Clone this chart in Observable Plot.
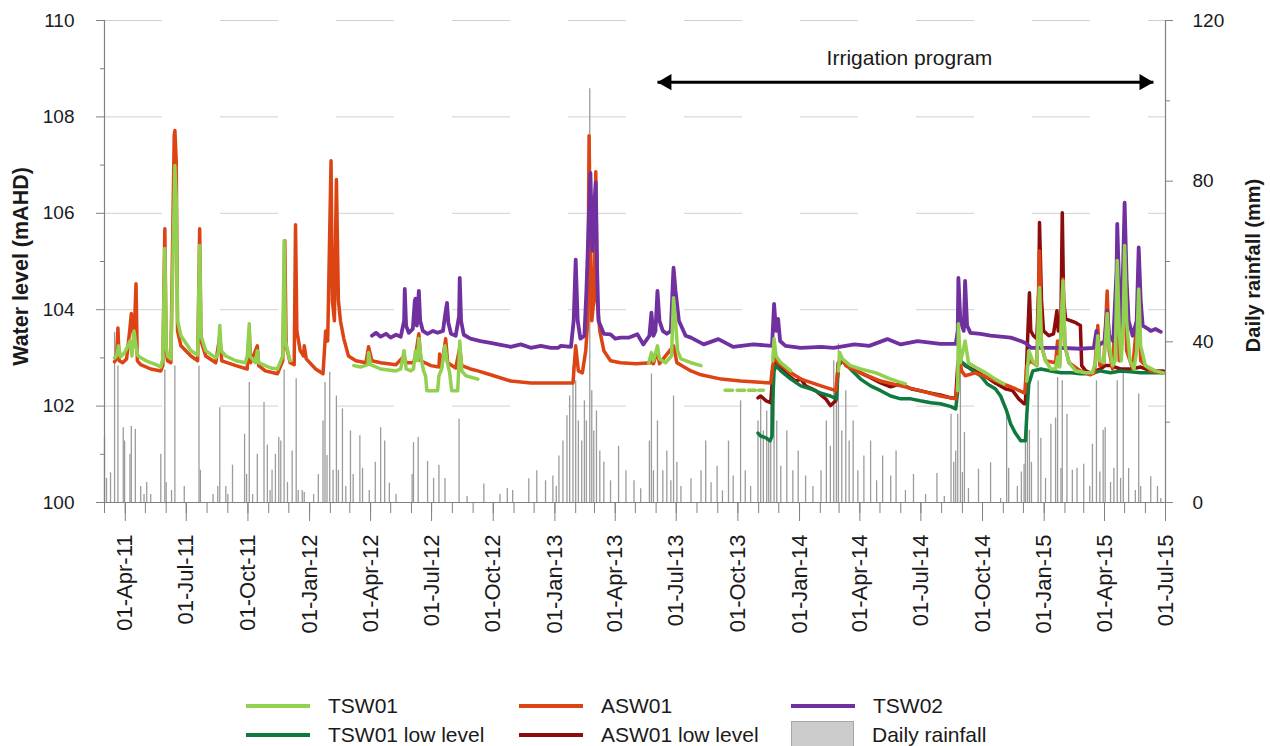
<!DOCTYPE html>
<html>
<head>
<meta charset="utf-8">
<script src="https://cdn.jsdelivr.net/npm/d3@7"></script>
<script src="https://cdn.jsdelivr.net/npm/@observablehq/plot@0.6"></script>
<style>
  body { margin: 0; background: #fff; font-family: "Liberation Sans", Arial, sans-serif; }
  #wrap { position: relative; width: 1270px; height: 746px; overflow: hidden; background: #fff; }
  #legend .item { position: absolute; display: flex; align-items: center; height: 30px; font-size: 21px; color: #1a1a1a; white-space: nowrap; }
  #legend .sw-line { width: 64px; height: 4px; margin-right: 18px; }
  #legend .sw-box { width: 63px; height: 28px; margin-right: 18px; box-sizing: border-box; background: #cccccc; border: 1px solid #a6a6a6; }
</style>
</head>
<body>
<div id="wrap"><div id="chart"></div><div id="legend"></div></div>
<script>
// ---------------- data ----------------
const xDomain = ["2011-03-01", "2015-07-01"];
const levelDomain = [100, 110];
const rainDomain = [0, 120];
const levelTicks = [100, 102, 104, 106, 108, 110];
const levelMinorTicks = [101, 103, 105, 107, 109];
const rainTicks = [0, 40, 80, 120];
const rainMinorTicks = [20, 60, 100];
const quarterTicks = ["2011-04-01","2011-07-01","2011-10-01","2012-01-01","2012-04-01","2012-07-01","2012-10-01","2013-01-01","2013-04-01","2013-07-01","2013-10-01","2014-01-01","2014-04-01","2014-07-01","2014-10-01","2015-01-01","2015-04-01","2015-07-01"];
const axisTitles = { left: "Water level (mAHD)", right: "Daily rainfall (mm)" };
const irrigation = [{ from: "2013-06-03", to: "2015-06-13", level: 108.72, label: "Irrigation program" }];

// ASW01 (continuous)
const asw01 = [
["2011-03-16",102.92],["2011-03-19",102.98],["2011-03-21",103.62],["2011-03-23",102.94],["2011-03-28",102.90],["2011-04-03",102.98],["2011-04-08",103.62],["2011-04-10",103.92],["2011-04-14",103.35],["2011-04-17",104.54],["2011-04-19",102.94],["2011-04-24",102.86],["2011-05-09",102.77],["2011-05-24",102.73],["2011-05-27",102.84],["2011-05-30",105.68],["2011-06-01",103.15],["2011-06-03",102.94],["2011-06-08",102.90],["2011-06-13",107.61],["2011-06-14",107.72],["2011-06-16",107.09],["2011-06-18",103.56],["2011-06-23",103.25],["2011-07-08",103.04],["2011-07-18",102.94],["2011-07-21",105.68],["2011-07-23",103.35],["2011-07-30",103.04],["2011-08-14",102.90],["2011-08-20",103.46],["2011-08-23",102.94],["2011-09-13",102.84],["2011-09-30",102.77],["2011-10-03",103.56],["2011-10-05",102.90],["2011-10-15",103.25],["2011-10-17",102.84],["2011-10-27",102.73],["2011-11-14",102.67],["2011-11-22",102.94],["2011-11-25",105.43],["2011-11-27",103.25],["2011-12-03",102.90],["2011-12-09",102.86],["2011-12-11",105.76],["2011-12-13",103.56],["2011-12-18",103.15],["2011-12-23",103.04],["2011-12-24",103.25],["2011-12-27",102.98],
["2012-01-10",102.77],["2012-01-21",102.67],["2012-01-25",103.56],["2012-01-28",103.35],["2012-02-02",107.09],["2012-02-04",104.19],["2012-02-07",103.77],["2012-02-10",106.70],["2012-02-13",104.19],["2012-02-16",103.77],["2012-02-21",103.40],["2012-02-28",103.04],["2012-03-10",102.94],["2012-03-25",102.90],["2012-03-29",103.23],["2012-04-03",102.94],["2012-04-16",102.90],["2012-05-09",102.86],["2012-05-21",103.04],["2012-05-24",102.90],["2012-06-04",102.90],["2012-06-07",103.04],["2012-06-12",103.50],["2012-06-15",102.94],["2012-06-30",102.84],["2012-07-12",102.81],["2012-07-13",103.08],["2012-07-16",102.81],["2012-07-22",103.40],["2012-07-25",102.90],["2012-08-06",102.79],["2012-08-12",103.21],["2012-08-15",102.84],["2012-08-28",102.77],["2012-09-08",102.73],["2012-09-27",102.65],["2012-10-27",102.52],["2012-11-26",102.48],
["2013-01-10",102.48],["2013-01-28",102.48],["2013-02-01",103.25],["2013-02-05",102.73],["2013-02-11",102.69],["2013-02-16",103.15],["2013-02-19",103.77],["2013-02-21",107.61],["2013-02-23",105.22],["2013-02-25",103.77],["2013-02-28",104.19],["2013-03-03",106.86],["2013-03-05",104.19],["2013-03-09",103.56],["2013-03-15",103.15],["2013-03-25",102.94],["2013-04-09",102.90],["2013-05-02",102.88],["2013-05-24",102.90],["2013-05-25",103.04],["2013-05-28",102.88],["2013-06-03",103.15],["2013-06-06",102.88],["2013-06-27",103.25],["2013-07-02",102.90],["2013-07-23",102.73],["2013-08-07",102.65],["2013-09-06",102.56],["2013-10-05",102.52],["2013-10-28",102.50],["2013-11-19",102.48],["2013-11-22",102.84],["2013-11-25",103.04],["2013-11-30",102.90],["2013-12-19",102.69],
["2014-01-03",102.56],["2014-02-02",102.42],["2014-02-24",102.32],["2014-02-28",102.90],["2014-03-05",102.98],["2014-03-11",102.84],["2014-04-02",102.69],["2014-05-02",102.52],["2014-06-01",102.42],["2014-06-30",102.32],["2014-07-30",102.21],["2014-08-22",102.15],["2014-08-28",102.94],["2014-08-31",102.73],["2014-09-05",102.63],["2014-09-20",102.69],["2014-10-06",102.61],["2014-10-28",102.48],["2014-11-19",102.36],["2014-12-03",102.27],["2014-12-06",102.84],["2014-12-12",102.94],["2014-12-21",102.84],["2014-12-25",105.22],["2014-12-28",103.25],
["2015-01-03",102.94],["2015-01-18",102.90],["2015-01-21",103.35],["2015-01-24",102.84],["2015-01-29",104.64],["2015-02-01",103.25],["2015-02-07",102.90],["2015-02-24",102.73],["2015-03-11",102.65],["2015-03-17",102.69],["2015-03-22",103.67],["2015-03-25",102.84],["2015-03-31",102.90],["2015-04-05",104.39],["2015-04-08",103.15],["2015-04-13",102.77],["2015-04-20",104.81],["2015-04-23",102.94],["2015-05-01",105.02],["2015-05-04",103.15],["2015-05-13",102.77],["2015-05-22",104.19],["2015-05-25",102.94],["2015-06-09",102.73],["2015-06-28",102.69]
];

// TSW01 (broken record: list of segments)
const tsw01 = [
 [["2011-03-16",103.00],["2011-03-19",103.04],["2011-03-22",103.25],["2011-03-25",103.02],["2011-03-31",103.11],["2011-04-05",103.25],["2011-04-08",103.35],["2011-04-11",103.04],["2011-04-14",103.56],["2011-04-17",103.25],["2011-04-20",103.04],["2011-05-02",102.94],["2011-05-17",102.86],["2011-05-24",102.81],["2011-05-27",102.98],["2011-05-30",105.27],["2011-06-01",103.25],["2011-06-03",103.04],["2011-06-08",102.98],["2011-06-13",106.26],["2011-06-14",106.99],["2011-06-16",106.26],["2011-06-18",103.77],["2011-06-23",103.46],["2011-07-08",103.15],["2011-07-18",103.06],["2011-07-21",105.33],["2011-07-23",103.46],["2011-07-30",103.15],["2011-08-14",103.00],["2011-08-18",103.11],["2011-08-20",103.67],["2011-08-22",103.15],["2011-08-29",103.04],["2011-09-13",102.94],["2011-09-27",102.90],["2011-09-30",103.04],["2011-10-03",103.71],["2011-10-04",103.04],["2011-10-12",102.90],["2011-10-15",103.15],["2011-10-17",102.90],["2011-10-27",102.84],["2011-11-04",102.79],["2011-11-14",102.77],["2011-11-22",103.04],["2011-11-24",105.43],["2011-11-26",103.35],["2011-12-01",103.04],["2011-12-03",102.94]],
 [["2012-03-07",102.84],["2012-03-17",102.81],["2012-03-28",102.86],["2012-03-29",103.11],["2012-04-01",102.86],["2012-04-16",102.77],["2012-05-09",102.73],["2012-05-16",102.77],["2012-05-21",103.15],["2012-05-24",102.77],["2012-05-31",102.73],["2012-06-04",102.77],["2012-06-07",103.15],["2012-06-10",102.94],["2012-06-12",103.40],["2012-06-15",103.04],["2012-06-19",102.73],["2012-06-22",102.63],["2012-06-24",102.32],["2012-07-10",102.32],["2012-07-12",102.63],["2012-07-16",102.77],["2012-07-21",103.25],["2012-07-24",102.94],["2012-07-28",102.69],["2012-07-31",102.32],["2012-08-09",102.32],["2012-08-11",102.94],["2012-08-12",103.35],["2012-08-15",102.73],["2012-08-21",102.63],["2012-09-08",102.56]],
 [["2013-05-21",102.90],["2013-05-25",103.11],["2013-05-28",102.94],["2013-06-03",103.25],["2013-06-06",102.98],["2013-06-15",102.90],["2013-06-24",103.04],["2013-06-27",104.25],["2013-06-30",103.77],["2013-07-03",103.15],["2013-07-08",102.98],["2013-07-23",102.90],["2013-08-07",102.84]],
 [["2013-09-12",102.33],["2013-09-23",102.33]],
 [["2013-09-30",102.33],["2013-10-11",102.33]],
 [["2013-10-17",102.33],["2013-10-27",102.33]],
 [["2013-11-01",102.33],["2013-11-08",102.33]],
 [["2013-11-22",102.94],["2013-11-24",103.40],["2013-11-27",103.04],["2013-12-04",102.90],["2013-12-19",102.73]],
 [["2014-02-28",102.73],["2014-03-02",103.11],["2014-03-06",102.98],["2014-03-18",102.84],["2014-04-02",102.77],["2014-04-25",102.69],["2014-05-17",102.56],["2014-06-08",102.46]],
 [["2014-08-25",102.32],["2014-08-26",103.71],["2014-08-29",102.90],["2014-09-05",103.35],["2014-09-10",102.90],["2014-09-20",102.81],["2014-10-06",102.69],["2014-10-20",102.56],["2014-11-02",102.46]],
 [["2014-12-06",102.52],["2014-12-09",103.15],["2014-12-15",102.94],["2014-12-21",102.84],["2014-12-25",104.46],["2014-12-28",103.25],["2015-01-03",102.94],["2015-01-11",102.77],["2015-01-18",102.77],["2015-01-21",103.02],["2015-01-24",102.81],["2015-01-29",104.60],["2015-02-01",103.25],["2015-02-07",102.90],["2015-02-17",102.73],["2015-03-04",102.69],["2015-03-14",102.69],["2015-03-19",102.94],["2015-03-22",103.46],["2015-03-25",102.94],["2015-03-31",102.90],["2015-04-02",103.25],["2015-04-05",103.92],["2015-04-08",103.25],["2015-04-13",102.84],["2015-04-17",102.94],["2015-04-20",105.02],["2015-04-23",103.56],["2015-04-26",102.94],["2015-04-29",103.77],["2015-05-01",105.33],["2015-05-04",103.77],["2015-05-09",102.94],["2015-05-15",102.77],["2015-05-19",103.15],["2015-05-22",104.43],["2015-05-25",103.25],["2015-06-01",102.84],["2015-06-16",102.73],["2015-06-28",102.69]]
];

// TSW02
const tsw02 = [
["2012-04-03",103.46],["2012-04-09",103.52],["2012-04-16",103.44],["2012-04-24",103.50],["2012-05-01",103.42],["2012-05-09",103.48],["2012-05-16",103.44],["2012-05-21",103.77],["2012-05-22",104.43],["2012-05-24",103.67],["2012-05-28",103.52],["2012-06-03",103.60],["2012-06-06",104.19],["2012-06-07",104.23],["2012-06-09",103.67],["2012-06-12",104.39],["2012-06-14",103.77],["2012-06-18",103.56],["2012-06-25",103.50],["2012-07-03",103.56],["2012-07-10",103.52],["2012-07-18",103.56],["2012-07-21",103.87],["2012-07-24",104.14],["2012-07-26",103.73],["2012-07-30",103.50],["2012-08-06",103.46],["2012-08-11",103.87],["2012-08-12",104.66],["2012-08-14",103.77],["2012-08-18",103.48],["2012-08-28",103.40],["2012-09-12",103.35],["2012-09-27",103.31],["2012-10-12",103.27],["2012-10-27",103.23],["2012-11-11",103.28],["2012-11-26",103.21],["2012-12-11",103.25],["2012-12-26",103.21],
["2013-01-06",103.21],["2013-01-10",103.25],["2013-01-25",103.23],["2013-01-29",103.77],["2013-02-01",105.04],["2013-02-04",103.77],["2013-02-08",103.40],["2013-02-14",103.46],["2013-02-17",104.39],["2013-02-19",105.22],["2013-02-22",106.47],["2013-02-23",106.84],["2013-02-25",105.64],["2013-02-26",105.22],["2013-03-01",106.26],["2013-03-03",106.64],["2013-03-05",104.81],["2013-03-07",103.77],["2013-03-15",103.50],["2013-03-25",103.49],["2013-04-01",103.40],["2013-04-09",103.42],["2013-04-21",103.42],["2013-05-04",103.49],["2013-05-13",103.28],["2013-05-22",103.46],["2013-05-25",103.94],["2013-05-28",103.46],["2013-05-31",103.56],["2013-06-03",104.39],["2013-06-06",103.77],["2013-06-11",103.56],["2013-06-17",103.50],["2013-06-23",103.56],["2013-06-26",104.60],["2013-06-27",104.87],["2013-06-30",104.39],["2013-07-05",103.77],["2013-07-15",103.46],["2013-07-23",103.42],["2013-08-11",103.28],["2013-09-02",103.39],["2013-09-24",103.23],["2013-10-24",103.28],["2013-11-21",103.25],["2013-11-24",104.12],["2013-11-27",103.56],["2013-11-30",103.81],["2013-12-03",103.35],["2013-12-11",103.25],
["2014-01-03",103.21],["2014-02-02",103.23],["2014-02-21",103.21],["2014-03-24",103.28],["2014-04-15",103.25],["2014-05-12",103.39],["2014-06-01",103.28],["2014-06-26",103.35],["2014-07-30",103.29],["2014-08-22",103.29],["2014-08-25",103.56],["2014-08-26",104.66],["2014-08-29",103.77],["2014-09-03",103.56],["2014-09-05",104.60],["2014-09-08",103.67],["2014-09-13",103.52],["2014-09-28",103.50],["2014-10-13",103.46],["2014-10-28",103.44],["2014-11-12",103.42],["2014-11-27",103.35],["2014-12-04",103.31],["2014-12-12",103.21],["2014-12-27",103.21],
["2015-01-26",103.21],["2015-02-24",103.19],["2015-03-16",103.21],["2015-03-20",103.56],["2015-03-23",103.25],["2015-04-01",103.35],["2015-04-05",103.98],["2015-04-08",103.46],["2015-04-14",103.35],["2015-04-19",104.81],["2015-04-20",105.78],["2015-04-23",104.39],["2015-04-26",103.56],["2015-04-29",105.02],["2015-05-01",106.22],["2015-05-04",104.60],["2015-05-07",103.77],["2015-05-13",103.46],["2015-05-19",103.77],["2015-05-22",105.29],["2015-05-25",104.19],["2015-05-28",103.67],["2015-06-03",103.62],["2015-06-09",103.56],["2015-06-16",103.60],["2015-06-24",103.54]
];

// TSW01 low level
const tsw01Low = [
["2013-10-31",101.44],["2013-11-04",101.38],["2013-11-12",101.34],["2013-11-18",101.28],["2013-11-21",101.38],["2013-11-22",102.11],["2013-11-24",102.73],["2013-11-27",102.84],["2013-12-04",102.73],["2013-12-19",102.56],["2014-01-03",102.42],["2014-01-17",102.36],["2014-02-02",102.27],["2014-02-16",102.21],["2014-02-25",102.15],["2014-02-28",102.84],["2014-03-06",102.94],["2014-03-18",102.77],["2014-04-02",102.56],["2014-04-17",102.42],["2014-05-02",102.32],["2014-05-17",102.21],["2014-06-01",102.15],["2014-06-16",102.15],["2014-06-30",102.11],["2014-07-16",102.07],["2014-07-30",102.05],["2014-08-15",101.99],["2014-08-22",101.94],["2014-08-25",102.32],["2014-08-26",102.94],["2014-09-01",102.90],["2014-09-13",102.77],["2014-09-28",102.63],["2014-10-08",102.46],["2014-10-20",102.36],["2014-10-28",102.21],["2014-11-06",101.90],["2014-11-12",101.63],["2014-11-19",101.44],["2014-11-27",101.28],["2014-12-04",101.28],["2014-12-06",101.80],["2014-12-09",102.46],["2014-12-15",102.73],["2014-12-27",102.77],["2015-01-11",102.73],["2015-01-26",102.69],["2015-02-10",102.69],["2015-02-24",102.67],["2015-03-11",102.67],["2015-03-26",102.73],["2015-04-10",102.69],["2015-04-25",102.73],["2015-05-10",102.71],["2015-05-25",102.69],["2015-06-09",102.69],["2015-06-28",102.69]
];

// ASW01 low level
const asw01Low = [
["2013-10-31",102.17],["2013-11-04",102.21],["2013-11-12",102.11],["2013-11-19",102.07],["2013-11-22",102.63],["2013-11-25",102.94],["2013-11-30",102.84],["2013-12-11",102.69],["2013-12-26",102.52],["2014-01-03",102.56],["2014-01-10",102.42],["2014-01-25",102.32],["2014-02-09",102.15],["2014-02-16",102.01],["2014-02-24",102.11],["2014-02-28",102.90],["2014-03-06",102.94],["2014-03-18",102.81],["2014-04-02",102.69],["2014-04-17",102.59],["2014-05-02",102.48],["2014-05-17",102.40],["2014-06-01",102.46],["2014-06-16",102.36],["2014-06-30",102.32],["2014-07-16",102.27],["2014-07-30",102.23],["2014-08-15",102.17],["2014-08-22",102.17],["2014-08-25",102.84],["2014-08-29",102.94],["2014-09-05",102.84],["2014-09-20",102.73],["2014-10-08",102.59],["2014-10-20",102.48],["2014-11-04",102.36],["2014-11-15",102.32],["2014-11-24",102.15],["2014-12-02",102.05],["2014-12-04",102.05],["2014-12-06",102.94],["2014-12-10",104.35],["2014-12-12",103.56],["2014-12-16",103.46],["2014-12-21",103.40],["2014-12-24",104.39],["2014-12-25",105.81],["2014-12-28",104.19],["2014-12-31",103.56],["2015-01-08",103.46],["2015-01-15",103.50],["2015-01-20",103.98],["2015-01-22",103.56],["2015-01-26",103.77],["2015-01-28",106.01],["2015-01-30",104.19],["2015-02-02",103.81],["2015-02-10",103.77],["2015-02-17",103.73],["2015-02-24",103.67],["2015-02-26",102.84],["2015-03-04",102.73],["2015-03-11",102.69],["2015-03-19",102.73],["2015-03-26",102.77],["2015-04-02",102.84],["2015-04-10",102.84],["2015-04-25",102.77],["2015-05-10",102.77],["2015-05-25",102.81],["2015-06-09",102.73],["2015-06-28",102.73]
];

// Daily rainfall (mm), rain days only
const rainfall = [
["2011-03-01",16.2],["2011-03-04",6],["2011-03-10",7.4],["2011-03-16",42.3],["2011-03-21",34],["2011-03-29",18.6],["2011-03-31",15.3],["2011-04-08",12],["2011-04-10",19],["2011-04-16",18.2],["2011-04-24",4],["2011-04-29",2],["2011-05-03",5],["2011-05-09",2],["2011-05-24",12],["2011-05-30",33],["2011-06-01",5],["2011-06-09",3],["2011-06-14",34],["2011-06-28",4],["2011-07-20",34],["2011-07-22",8],["2011-08-10",2],["2011-08-17",4],["2011-08-20",23.6],["2011-08-29",4],["2011-09-01",2],["2011-09-08",9.3],["2011-09-26",17],["2011-09-29",7],["2011-10-03",29.9],["2011-10-08",2],["2011-10-15",12],["2011-10-25",24.9],["2011-10-30",14.3],["2011-11-03",3],["2011-11-06",8],["2011-11-11",12],["2011-11-16",16.2],["2011-11-19",15.3],["2011-11-24",33],["2011-11-29",5],["2011-12-06",12.8],["2011-12-12",30.8],["2011-12-15",3],["2011-12-21",3],["2011-12-24",2.5],
["2012-01-07",2],["2012-01-14",7],["2012-01-21",20.3],["2012-01-24",29.9],["2012-01-27",11.7],["2012-01-31",32.4],["2012-02-05",8],["2012-02-10",26.5],["2012-02-13",8],["2012-02-19",23.3],["2012-02-24",4],["2012-03-02",17.8],["2012-03-06",7],["2012-03-16",16.6],["2012-03-20",8.5],["2012-03-30",3],["2012-04-08",10],["2012-04-16",18.6],["2012-04-22",15.3],["2012-04-29",4.8],["2012-05-09",2],["2012-06-02",7],["2012-06-04",14.9],["2012-06-11",16.2],["2012-06-25",10.2],["2012-07-04",6],["2012-07-12",9.3],["2012-07-21",6],["2012-08-11",20.7],["2012-08-23",1.5],["2012-09-17",4.6],["2012-10-11",2],["2012-10-22",3.5],["2012-10-30",3],["2012-11-23",5.9],["2012-12-05",7.9],["2012-12-18",5.4],["2012-12-29",6.6],
["2013-01-03",4],["2013-01-07",11.6],["2013-01-13",15.3],["2013-01-19",21.6],["2013-01-23",26.5],["2013-01-28",34],["2013-02-01",30.3],["2013-02-05",20.3],["2013-02-10",15.3],["2013-02-14",25.3],["2013-02-17",20.3],["2013-02-22",103],["2013-02-25",27.8],["2013-02-28",17.8],["2013-03-04",22.8],["2013-03-09",12.8],["2013-03-15",10],["2013-03-25",5.4],["2013-04-06",14],["2013-04-17",7.9],["2013-04-29",5.4],["2013-05-09",3.4],["2013-05-22",15.3],["2013-05-25",32],["2013-05-28",7.9],["2013-06-03",20.3],["2013-06-11",7.9],["2013-06-17",12.8],["2013-06-23",5.4],["2013-06-27",26.5],["2013-07-02",10],["2013-07-08",4],["2013-07-23",5.9],["2013-08-07",7.9],["2013-08-14",15.3],["2013-08-22",4.9],["2013-08-31",9],["2013-09-08",2.9],["2013-09-17",15.3],["2013-09-24",6.6],["2013-10-05",25.3],["2013-10-12",7.9],["2013-10-20",4],["2013-10-31",20.3],["2013-11-04",26.5],["2013-11-08",17.8],["2013-11-13",22.8],["2013-11-16",15.3],["2013-11-19",32.8],["2013-11-24",35.3],["2013-11-28",20.3],["2013-12-04",9],["2013-12-13",17.8],["2013-12-22",7.9],["2013-12-30",12.8],
["2014-01-10",6.6],["2014-01-21",4],["2014-02-02",7.9],["2014-02-10",20.3],["2014-02-16",14],["2014-02-21",35.3],["2014-02-25",25.3],["2014-02-28",39.5],["2014-03-05",17.8],["2014-03-11",27.8],["2014-03-16",15.3],["2014-03-22",20.3],["2014-03-29",7.9],["2014-04-07",11.6],["2014-04-17",15.3],["2014-04-26",5.4],["2014-05-05",11.6],["2014-05-17",6.6],["2014-05-25",12.8],["2014-06-08",3],["2014-06-20",7],["2014-07-08",2],["2014-07-25",7.2],["2014-08-05",1.5],["2014-08-15",22],["2014-08-19",10],["2014-08-22",12.8],["2014-08-25",22],["2014-08-29",32.8],["2014-09-01",7.5],["2014-09-04",17.4],["2014-09-10",3.5],["2014-09-25",8.3],["2014-10-13",9.9],["2014-10-28",1],["2014-11-06",22.8],["2014-11-09",8.5],["2014-11-22",4],["2014-11-28",7.6],["2014-12-02",9.5],["2014-12-04",16.2],["2014-12-07",37.8],["2014-12-10",18],["2014-12-13",10],["2014-12-23",30.3],["2014-12-27",16],
["2015-01-03",6],["2015-01-11",19.5],["2015-01-18",21],["2015-01-21",31.1],["2015-01-26",8.5],["2015-01-28",30.3],["2015-02-04",22],["2015-02-12",8],["2015-02-19",8.5],["2015-03-01",9.5],["2015-03-10",4],["2015-03-14",14.5],["2015-03-20",30.3],["2015-03-25",7.6],["2015-03-30",18],["2015-04-02",18.7],["2015-04-10",5],["2015-04-15",8.5],["2015-04-20",30.3],["2015-04-25",6],["2015-04-29",32.8],["2015-05-07",8.5],["2015-05-17",3],["2015-05-22",27],["2015-05-25",4],["2015-06-09",6.4],["2015-06-19",4],["2015-06-24",1]
];

// ---------------- styles ----------------
const COLORS = { tsw01: "#92D050", asw01: "#DC4414", tsw02: "#7030A0", tsw01Low: "#0F7A3D", asw01Low: "#8C0C0C", rain: "#9c9c9c", axis: "#808080", grid: "#d0d0d0", text: "#1a1a1a" };
const FONT = "'Liberation Sans', Arial, sans-serif";

// ---------------- build ----------------
const parse = d3.utcParse("%Y-%m-%d");
const rows = (pairs, seg = 0) => pairs.map(([d, v]) => ({ date: parse(d), level: v, seg }));
const segRows = segs => segs.flatMap((s, i) => rows(s, i));
const k = (levelDomain[1] - levelDomain[0]) / (rainDomain[1] - rainDomain[0]);
const rainToLevel = mm => levelDomain[0] + mm * k;
const rainRows = rainfall.map(([d, mm]) => ({ date: parse(d), mm, top: rainToLevel(mm) }));
const x0 = parse(xDomain[0]), x1 = parse(xDomain[1]);
const monthTicks = d3.utcMonth.range(x0, d3.utcDay.offset(x1, 1));
const qTicks = quarterTicks.map(parse);
const irr = irrigation.map(d => ({ ...d, from: parse(d.from), to: parse(d.to), mid: new Date((parse(d.from).getTime() + parse(d.to).getTime()) / 2) }));
const fmt = d3.utcFormat("%d-%b-%y");

const lineOpts = (color, w = 3.5) => ({ x: "date", y: "level", z: "seg", stroke: color, strokeWidth: w, strokeLinejoin: "round", strokeLinecap: "round" });

const chart = Plot.plot({
  width: 1270, height: 670,
  marginLeft: 104, marginRight: 105, marginTop: 20, marginBottom: 168,
  x: { type: "utc", domain: [x0, x1], label: null },
  y: { domain: levelDomain, label: null },
  style: { fontFamily: FONT, fontSize: "19px", color: COLORS.text, background: "#fff", overflow: "visible" },
  marks: [
    Plot.gridY(levelTicks.filter(v => v > levelDomain[0]), { stroke: COLORS.grid, strokeOpacity: 1, strokeWidth: 1, strokeDasharray: "58 58" }),
    Plot.ruleX(rainRows, { x: "date", y1: levelDomain[0], y2: "top", stroke: COLORS.rain, strokeWidth: 1.3 }),
    Plot.line(rows(asw01Low), lineOpts(COLORS.asw01Low)),
    Plot.line(rows(tsw01Low), lineOpts(COLORS.tsw01Low)),
    Plot.line(rows(asw01), lineOpts(COLORS.asw01)),
    Plot.line(rows(tsw02), lineOpts(COLORS.tsw02, 3.8)),
    Plot.line(segRows(tsw01), lineOpts(COLORS.tsw01)),
    // axis lines
    Plot.ruleY([levelDomain[0]], { stroke: COLORS.axis, strokeWidth: 1.2 }),
    Plot.ruleX([x0, x1], { stroke: COLORS.axis, strokeWidth: 1.2 }),
    // left axis
    Plot.axisY(levelTicks, { anchor: "left", tickSize: 8, tickPadding: 22, stroke: COLORS.axis, fontSize: 19, label: null }),
    Plot.axisY(levelMinorTicks, { anchor: "left", tickSize: 4, tickFormat: () => "", stroke: COLORS.axis, label: null }),
    // right axis (rainfall)
    Plot.axisY(rainTicks.map(rainToLevel), { anchor: "right", tickSize: 7, tickPadding: 20, stroke: COLORS.axis, fontSize: 19, label: null, tickFormat: v => String(Math.round((v - levelDomain[0]) / k)) }),
    Plot.axisY(rainMinorTicks.map(rainToLevel), { anchor: "right", tickSize: 4, tickFormat: () => "", stroke: COLORS.axis, label: null }),
    // x axis
    Plot.axisX(monthTicks, { anchor: "bottom", tickSize: 11, tickFormat: () => "", stroke: COLORS.axis, label: null }),
    Plot.axisX(qTicks, { anchor: "bottom", tickSize: 19, tickPadding: 13, tickRotate: -90, tickFormat: fmt, stroke: COLORS.axis, fontSize: 22, label: null }),
    // axis titles
    Plot.text([axisTitles.left], { frameAnchor: "left", textAnchor: "middle", dx: -83, dy: 5, rotate: -90, text: d => d, fontWeight: "bold", fontSize: 21.5, fill: COLORS.text }),
    Plot.text([axisTitles.right], { frameAnchor: "right", textAnchor: "middle", dx: 88, dy: 4, rotate: -90, text: d => d, fontWeight: "bold", fontSize: 20, fill: COLORS.text }),
    // irrigation annotation
    Plot.link(irr, { x1: "from", x2: "to", y1: "level", y2: "level", stroke: "#000", strokeWidth: 3 }),
    Plot.dot(irr, { x: "from", y: "level", symbol: "triangle", r: 6, fill: "#000", stroke: "none", rotate: -90, dx: 9.3 }),
    Plot.dot(irr, { x: "to", y: "level", symbol: "triangle", r: 6, fill: "#000", stroke: "none", rotate: 90, dx: -9.3 }),
    Plot.text(irr, { x: "mid", y: "level", text: "label", dx: 4, dy: -24, fontSize: 21, fill: COLORS.text })
  ]
});
document.getElementById("chart").appendChild(chart);

// ---------------- legend (below the chart) ----------------
const legendItems = [
  { label: "TSW01", color: COLORS.tsw01, type: "line", col: 0, row: 0 },
  { label: "ASW01", color: COLORS.asw01, type: "line", col: 1, row: 0 },
  { label: "TSW02", color: COLORS.tsw02, type: "line", col: 2, row: 0 },
  { label: "TSW01 low level", color: COLORS.tsw01Low, type: "line", col: 0, row: 1 },
  { label: "ASW01 low level", color: COLORS.asw01Low, type: "line", col: 1, row: 1 },
  { label: "Daily rainfall", color: null, type: "box", col: 2, row: 1 }
];
const colX = [246, 519, 791], rowY = [691, 720];
const legend = document.getElementById("legend");
legendItems.forEach(it => {
  const el = document.createElement("div");
  el.className = "item";
  el.style.left = colX[it.col] + "px";
  el.style.top = rowY[it.row] + "px";
  const sw = document.createElement("div");
  if (it.type === "line") { sw.className = "sw-line"; sw.style.background = it.color; }
  else { sw.className = "sw-box"; }
  el.appendChild(sw);
  const t = document.createElement("span");
  t.textContent = it.label;
  el.appendChild(t);
  legend.appendChild(el);
});
</script>
</body>
</html>
